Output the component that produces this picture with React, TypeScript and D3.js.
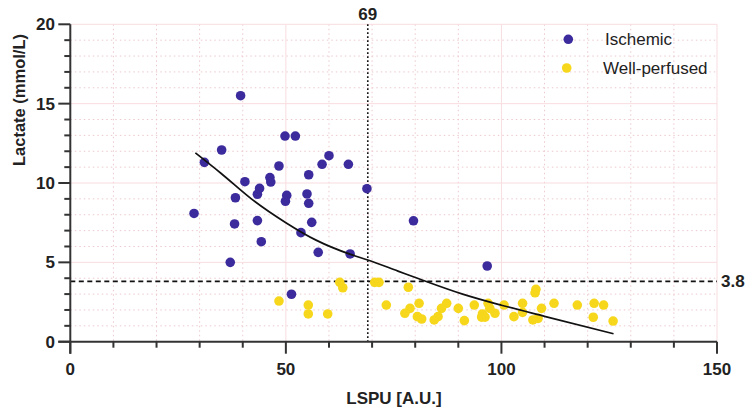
import React from "react";
import * as d3 from "d3";

const ischemicX = [28.7, 31.1, 35.1, 39.5, 40.5, 38.3, 38.1, 37.1, 43.4, 44.3, 43.4, 43.9, 46.3, 46.5, 48.4, 49.8, 52.2, 50.2, 49.9, 54.9, 55.3, 55.3, 56.0, 53.5, 57.5, 58.4, 60.0, 64.5, 64.9, 68.8, 51.3, 96.7, 79.6];
const ischemicY = [8.08, 11.3, 12.08, 15.5, 10.08, 9.07, 7.42, 5.0, 7.63, 6.3, 9.29, 9.66, 10.34, 10.06, 11.07, 12.96, 12.96, 9.22, 8.85, 9.31, 8.72, 10.52, 7.52, 6.87, 5.63, 11.18, 11.72, 11.18, 5.53, 9.64, 2.99, 4.77, 7.62];

const perfusedX = [48.4, 55.2, 55.2, 59.7, 62.5, 63.2, 70.6, 71.6, 73.3, 78.4, 77.6, 78.8, 80.9, 80.5, 81.5, 84.4, 85.3, 86.1, 87.3, 90.0, 91.4, 93.7, 95.4, 96.2, 95.6, 96.9, 97.3, 98.5, 100.6, 102.9, 104.9, 104.9, 107.3, 108.5, 108.0, 107.8, 109.3, 112.2, 117.6, 121.5, 123.7, 121.3, 125.9];
const perfusedY = [2.56, 2.31, 1.75, 1.75, 3.74, 3.4, 3.74, 3.74, 2.31, 3.43, 1.79, 2.1, 2.42, 1.58, 1.43, 1.37, 1.58, 2.1, 2.42, 2.1, 1.33, 2.31, 1.55, 1.55, 1.75, 2.42, 2.1, 1.79, 2.31, 1.58, 2.42, 1.85, 1.37, 1.47, 3.3, 3.08, 2.1, 2.42, 2.31, 2.42, 2.31, 1.54, 1.3];

const curveX = [29, 35, 42, 50, 57, 65, 69, 76, 81, 91, 100, 110, 126];
const curveY = [11.9, 10.6, 9.0, 7.5, 6.4, 5.5, 5.15, 4.45, 3.95, 3.0, 2.3, 1.6, 0.5];

const xMajorTicks = [0, 50, 100, 150];
const yMajorTicks = [0, 5, 10, 15, 20];
const cutoffX = 69;
const cutoffY = 3.8;
const seriesNames = ["Ischemic", "Well-perfused"];

const BLUE = "#3b2b9d";
const YELLOW = "#f6d71c";
const AXIS = "#333";
const FONT = "'Liberation Sans', Arial, sans-serif";

export default function App() {
  const x = d3.scaleLinear().domain([0, 150]).range([70.3, 717]);
  const y = d3.scaleLinear().domain([0, 20]).range([341.7, 24.3]);

  const xMinor = d3.range(0, 151, 10);
  const yMinor = d3.range(0, 21, 1);

  const line = d3
    .line<number>()
    .x((_, i) => x(curveX[i]))
    .y((d) => y(d))
    .curve(d3.curveMonotoneX);

  const x0 = x(0), x1 = x(150), y0 = y(0), y1 = y(20);

  return (
    <svg
      width={745}
      height={407}
      style={{ position: "absolute", left: 0, top: 0, background: "#fff" }}
      fontFamily={FONT}
    >
      {/* minor grid */}
      {xMinor.filter((v) => v % 50 !== 0).map((v) => (
        <line key={"gx" + v} x1={x(v)} x2={x(v)} y1={y1} y2={y0} stroke="#ecc9ce" strokeWidth={1} strokeDasharray="1.5,3" />
      ))}
      {yMinor.filter((v) => v % 5 !== 0).map((v) => (
        <line key={"gy" + v} x1={x0} x2={x1} y1={y(v)} y2={y(v)} stroke="#ecc9ce" strokeWidth={1} strokeDasharray="1.5,3" />
      ))}
      {/* major grid */}
      {xMajorTicks.filter((v) => v !== 0).map((v) => (
        <line key={"Gx" + v} x1={x(v)} x2={x(v)} y1={y1} y2={y0} stroke="#f8dde0" strokeWidth={1} />
      ))}
      {yMajorTicks.filter((v) => v !== 0).map((v) => (
        <line key={"Gy" + v} x1={x0} x2={x1} y1={y(v)} y2={y(v)} stroke="#f8dde0" strokeWidth={1} />
      ))}

      {/* cutoff lines */}
      <line x1={x(cutoffX)} x2={x(cutoffX)} y1={y1} y2={y0} stroke="#111" strokeWidth={1.6} strokeDasharray="1.6,2.4" />
      <line x1={x0} x2={x1} y1={y(cutoffY)} y2={y(cutoffY)} stroke="#111" strokeWidth={1.6} strokeDasharray="5,3.5" />
      <text x={x(cutoffX)} y={20} textAnchor="middle" fontSize={17} fontWeight="bold" fill="#222">{cutoffX}</text>
      <text x={721} y={y(cutoffY) + 5.5} textAnchor="start" fontSize={17} fontWeight="bold" fill="#222">{cutoffY}</text>

      {/* points */}
      {perfusedX.map((v, i) => (
        <circle key={"p" + i} cx={x(v)} cy={y(perfusedY[i])} r={4.8} fill={YELLOW} />
      ))}
      {ischemicX.map((v, i) => (
        <circle key={"i" + i} cx={x(v)} cy={y(ischemicY[i])} r={4.8} fill={BLUE} />
      ))}

      {/* fit curve */}
      <path d={line(curveY) || ""} fill="none" stroke="#111" strokeWidth={1.7} />

      {/* axes */}
      <line x1={x0} x2={x0} y1={y1} y2={y0 + 12} stroke={AXIS} strokeWidth={2} />
      <line x1={x0 - 12} x2={x1} y1={y0} y2={y0} stroke={AXIS} strokeWidth={2} />
      {xMinor.map((v) => (
        <line key={"tx" + v} x1={x(v)} x2={x(v)} y1={y0} y2={y0 + (v % 50 === 0 ? 12 : 6)} stroke={AXIS} strokeWidth={2} />
      ))}
      {yMinor.map((v) => (
        <line key={"ty" + v} x1={x0} x2={x0 - (v % 5 === 0 ? 12 : 6)} y1={y(v)} y2={y(v)} stroke={AXIS} strokeWidth={2} />
      ))}
      {xMajorTicks.map((v) => (
        <text key={"lx" + v} x={x(v)} y={375} textAnchor="middle" fontSize={17} fontWeight="bold" fill="#222">{v}</text>
      ))}
      {yMajorTicks.map((v) => (
        <text key={"ly" + v} x={55} y={y(v) + 6} textAnchor="end" fontSize={17} fontWeight="bold" fill="#222">{v}</text>
      ))}

      {/* axis titles */}
      <text x={394} y={404} textAnchor="middle" fontSize={17} fontWeight="bold" fill="#222">LSPU [A.U.]</text>
      <text transform="translate(25,100) rotate(-90)" textAnchor="middle" fontSize={16.5} fontWeight="bold" fill="#222">Lactate (mmol/L)</text>

      {/* legend */}
      <circle cx={568.3} cy={39.3} r={4.8} fill={BLUE} />
      <text x={605} y={45} fontSize={17} fill="#222">{seriesNames[0]}</text>
      <circle cx={566.7} cy={68} r={4.8} fill={YELLOW} />
      <text x={603} y={74} fontSize={17} fill="#222">{seriesNames[1]}</text>
    </svg>
  );
}
